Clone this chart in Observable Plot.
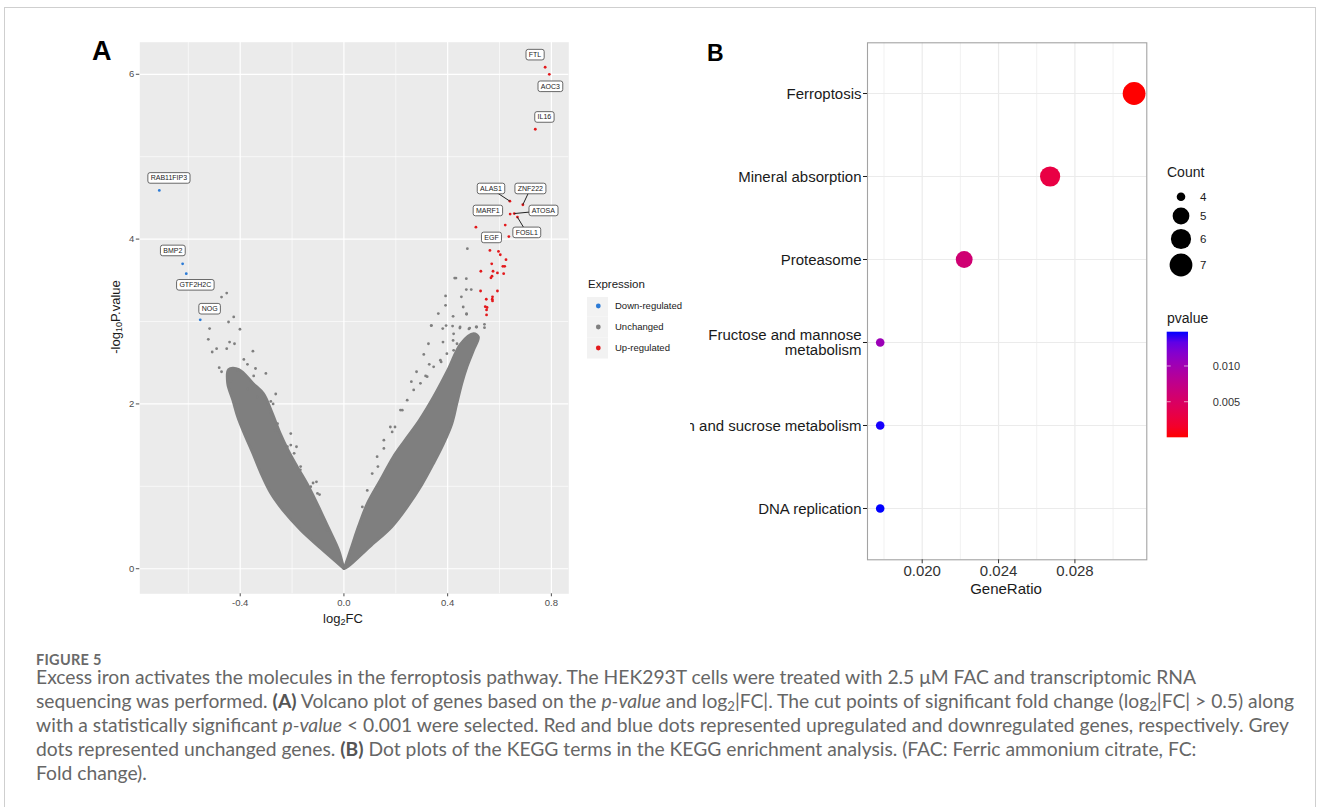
<!DOCTYPE html>
<html><head><meta charset="utf-8">
<script src="https://cdn.jsdelivr.net/npm/d3@7"></script>
<script src="https://cdn.jsdelivr.net/npm/@observablehq/plot@0.6"></script>
<style>
body{margin:0;background:#fff;}
#page{position:relative;width:1328px;height:807px;overflow:hidden;font-family:"Liberation Sans",Arial,sans-serif;background:#fff;}
.abs{position:absolute;white-space:nowrap;line-height:1;}
sub{font-size:70%;vertical-align:-0.3em;line-height:0;}
.cap{position:absolute;left:36px;white-space:nowrap;font-family:Lato,"Open Sans",sans-serif;color:#666;line-height:1;}
.cap b{color:#555;}
.cap sub{font-size:68%;vertical-align:-0.25em;}
</style></head><body><div id="page"></div>
<script>
// ---------------- Panel A data (volcano) ----------------
const geneNames = ["FTL","AOC3","IL16","ALAS1","ZNF222","MARF1","ATOSA","FOSL1","EGF","RAB11FIP3","BMP2","GTF2H2C","NOG"];
const geneFC    = [0.776,0.792,0.738,0.640,0.690,0.641,0.657,0.669,0.636,-0.712,-0.622,-0.608,-0.554];
const geneLogP  = [6.085,6.000,5.333,4.460,4.417,4.303,4.310,4.267,4.030,4.590,3.700,3.580,3.020];
const geneExpr  = ["Up-regulated","Up-regulated","Up-regulated","Up-regulated","Up-regulated","Up-regulated","Up-regulated","Up-regulated","Up-regulated","Down-regulated","Down-regulated","Down-regulated","Down-regulated"];
const labelFC   = [0.737,0.796,0.773,0.567,0.719,0.555,0.769,0.705,0.569,-0.675,-0.660,-0.573,-0.518];
const labelLogP = [6.235,5.851,5.479,4.611,4.611,4.344,4.344,4.078,4.017,4.739,3.859,3.442,3.152];
const segmentGenes = ["ALAS1","ZNF222","ATOSA","FOSL1"];

const upFC   = [0.509,0.622,0.563,0.596,0.603,0.625,0.570,0.613,0.620,0.528,0.575,0.592,0.616,0.571,0.567,0.527,0.592,0.549,0.573,0.572,0.573,0.545,0.550,0.550,0.552];
const upLogP = [4.145,4.170,3.863,3.850,3.810,3.750,3.700,3.670,3.670,3.610,3.610,3.590,3.580,3.550,3.530,3.370,3.370,3.270,3.300,3.270,3.250,3.180,3.140,3.080,3.170];

const greyFC = [-0.452,-0.472,-0.425,-0.445,-0.518,-0.401,-0.523,-0.508,-0.491,-0.481,-0.441,-0.422,-0.452,-0.351,-0.386,-0.301,-0.341,-0.348,-0.263,-0.282,-0.273,-0.265,-0.183,-0.205,-0.168,-0.106,-0.119,-0.102,-0.094,-0.472,-0.436,-0.410,-0.372,
  -0.436,-0.372,-0.333,-0.282,-0.256,-0.205,-0.218,-0.192,-0.167,-0.128,-0.115,-0.090,-0.064,-0.077,
  0.392,0.460,0.473,0.421,0.364,0.337,0.394,0.419,0.448,0.482,0.512,0.542,0.326,0.382,0.421,0.308,0.375,0.329,0.280,0.260,0.315,0.225,0.197,0.186,0.154,0.131,0.423,0.436,
  0.476,0.427,0.432,0.472,0.472,0.491,0.392,0.453,0.473,0.337,0.381,0.447,0.485,0.510,0.542,
  0.218,0.244,0.269,0.295,0.321,0.346,0.372,0.397,0.423,0.179,0.154,0.128,0.109,0.090,0.071];
const greyLogP = [3.345,3.297,3.055,2.994,2.914,2.906,2.784,2.630,2.670,2.440,2.750,2.730,2.670,2.640,2.540,2.370,2.430,2.340,2.120,2.030,2.000,1.680,1.480,1.500,1.200,1.055,1.040,0.914,0.900,2.390,2.270,2.410,2.480,
  2.170,2.180,2.085,1.880,1.760,1.640,1.480,1.400,1.240,0.995,0.830,0.670,0.469,0.590,
  3.196,3.176,3.087,3.063,3.096,2.950,2.950,2.945,2.933,2.910,2.933,2.925,2.730,2.750,2.770,2.600,2.510,2.480,2.390,2.270,2.340,1.924,1.720,1.660,1.460,1.240,2.850,2.730,
  3.884,3.527,3.527,3.520,3.387,3.387,3.310,3.300,3.095,2.950,2.914,2.920,2.920,2.933,2.966,
  1.925,2.045,2.170,2.250,2.330,2.450,2.530,2.610,2.650,1.720,1.560,1.360,1.155,0.950,0.750];

// outlines of the dense cloud of unchanged genes
const leftArmFC  = [0,-0.090,-0.167,-0.231,-0.282,-0.320,-0.352,-0.385,-0.410,-0.429,-0.449,-0.445,-0.405,-0.350,-0.310,-0.280,-0.245,-0.215,-0.180,-0.135,-0.085,-0.055,-0.020,0];
const leftArmLogP= [0,0.247,0.469,0.691,0.914,1.156,1.400,1.640,1.840,2.045,2.250,2.420,2.420,2.250,2.126,1.920,1.640,1.440,1.240,0.994,0.671,0.469,0.227,0];
const rightArmFC = [0,0.015,0.100,0.185,0.245,0.300,0.346,0.385,0.417,0.436,0.455,0.475,0.500,0.519,0.500,0.450,0.400,0.345,0.290,0.235,0.190,0.140,0.090,0.055,0.025,0];
const rightArmLogP=[0,0.024,0.267,0.509,0.752,1.015,1.278,1.520,1.762,2.005,2.247,2.449,2.650,2.812,2.853,2.730,2.410,2.085,1.800,1.560,1.358,1.075,0.793,0.509,0.227,0];

const xTicksA = [-0.4,0,0.4,0.8], xMinorA = [-0.6,-0.2,0.2,0.6];
const yTicksA = [0,2,4,6], yMinorA = [1,3,5];
const expressionLevels = ["Down-regulated","Unchanged","Up-regulated"];
const expressionColors = ["#2C7BD6","#7F7F7F","#E3191C"];

// ---------------- Panel B data (KEGG dot plot) ----------------
const terms = ["Ferroptosis","Mineral absorption","Proteasome","Fructose and mannose metabolism","Starch and sucrose metabolism","DNA replication"];
const termLabels = ["Ferroptosis","Mineral absorption","Proteasome","Fructose and mannose\nmetabolism","Starch and sucrose metabolism","DNA replication"];
const counts = [7,6,5,4,4,4];
const geneRatio = [0.0311,0.0267,0.0222,0.0178,0.0178,0.0178];
const pvalues = [0.00002,0.0030,0.0060,0.0104,0.0147,0.0148];
const xTicksB = [0.020,0.024,0.028], xMinorB = [0.018,0.022,0.026,0.030];
const countLegend = [4,5,6,7];
const pvalueTicks = [0.010,0.005];

// ---------------- helpers ----------------
const FONT = '"Liberation Sans", Arial, sans-serif';
const page = document.getElementById("page");
const ext = (lo, hi) => { const d = (hi - lo) * 0.05; return [lo - d, hi + d]; };
function addHTML(html, css) { const d = document.createElement("div"); d.className = "abs"; d.innerHTML = html; Object.assign(d.style, css); page.appendChild(d); return d; }

// frame
const fr = document.createElement("div");
Object.assign(fr.style, {position:"absolute", left:"4px", top:"7px", width:"1312px", height:"840px", border:"1px solid #cfcfcf", boxSizing:"border-box"});
page.appendChild(fr);

// ---------------- Panel A ----------------
const pts = [];
greyFC.forEach((v,i)=>pts.push({fc:v, lp:greyLogP[i], expr:"Unchanged"}));
upFC.forEach((v,i)=>pts.push({fc:v, lp:upLogP[i], expr:"Up-regulated"}));
geneFC.forEach((v,i)=>pts.push({fc:v, lp:geneLogP[i], expr:geneExpr[i]}));
const genes = geneNames.map((n,i)=>({name:n, fc:geneFC[i], lp:geneLogP[i], lfc:labelFC[i], llp:labelLogP[i]}));
const segs = genes.filter(g => segmentGenes.includes(g.name));
const leftArm = leftArmFC.map((v,i)=>({fc:v, lp:leftArmLogP[i]}));
const rightArm = rightArmFC.map((v,i)=>({fc:v, lp:rightArmLogP[i]}));

const allFC = [...pts.map(d=>d.fc), ...leftArmFC, ...rightArmFC];
const allLP = [...pts.map(d=>d.lp), ...leftArmLogP, ...rightArmLogP];

const plotA = Plot.plot({
  width: 575, height: 625,
  marginLeft: 139.3, marginRight: 6.7, marginTop: 41.7, marginBottom: 31.7,
  x: {domain: ext(d3.min(allFC), d3.max(allFC))},
  y: {domain: ext(d3.min(allLP), d3.max(allLP))},
  color: {domain: expressionLevels, range: expressionColors},
  style: {fontFamily: FONT, background: "transparent", overflow: "visible"},
  marks: [
    Plot.frame({fill: "#EBEBEB", stroke: "none"}),
    Plot.gridX({ticks: xMinorA, stroke: "#fff", strokeOpacity: 1, strokeWidth: 0.6}),
    Plot.gridY({ticks: yMinorA, stroke: "#fff", strokeOpacity: 1, strokeWidth: 0.6}),
    Plot.gridX({ticks: xTicksA, stroke: "#fff", strokeOpacity: 1, strokeWidth: 1.2}),
    Plot.gridY({ticks: yTicksA, stroke: "#fff", strokeOpacity: 1, strokeWidth: 1.2}),
    Plot.line(leftArm, {x: "fc", y: "lp", fill: "#7F7F7F", stroke: "#7F7F7F", strokeWidth: 2.5, strokeLinejoin: "round", curve: "catmull-rom"}),
    Plot.line(rightArm, {x: "fc", y: "lp", fill: "#7F7F7F", stroke: "#7F7F7F", strokeWidth: 2.5, strokeLinejoin: "round", curve: "catmull-rom"}),
    Plot.dot(pts, {x: "fc", y: "lp", fill: "expr", r: 1.4}),
    Plot.link(segs, {x1: "lfc", y1: "llp", x2: "fc", y2: "lp", stroke: "#222", strokeWidth: 1}),
    Plot.text(genes, {x: "lfc", y: "llp", text: "name", fontSize: 7, fill: "#222", className: "genelab"}),
    Plot.axisX({ticks: xTicksA, tickFormat: d => d.toFixed(1), tickSize: 3, tickPadding: 2, fontSize: 9.5, color: "#4D4D4D", label: null}),
    Plot.axisY({ticks: yTicksA, tickFormat: d => String(d), tickSize: 3.5, tickPadding: 2, fontSize: 9.5, color: "#4D4D4D", label: null})
  ]
});
Object.assign(plotA.style, {position: "absolute", left: "0px", top: "0px"});
page.appendChild(plotA);

// label boxes (ggrepel style)
plotA.querySelectorAll("g.genelab text").forEach(t => {
  const b = t.getBBox();
  const r = document.createElementNS("http://www.w3.org/2000/svg", "rect");
  r.setAttribute("x", b.x - 2.8); r.setAttribute("y", b.y - 1.8);
  r.setAttribute("width", b.width + 5.6); r.setAttribute("height", b.height + 3.6);
  r.setAttribute("rx", 2.2); r.setAttribute("fill", "#fff"); r.setAttribute("stroke", "#444"); r.setAttribute("stroke-width", 0.8);
  if (t.getAttribute("transform")) r.setAttribute("transform", t.getAttribute("transform"));
  t.parentNode.insertBefore(r, t);
});

addHTML("A", {left: "92px", top: "38px", fontSize: "27px", fontWeight: "bold", color: "#000"});
addHTML("log<sub>2</sub>FC", {left: "343px", top: "618px", transform: "translate(-50%,-50%)", fontSize: "13px", color: "#1a1a1a"});
addHTML("-log<sub>10</sub>P.value", {left: "115px", top: "317px", transform: "translate(-50%,-50%) rotate(-90deg)", fontSize: "13px", color: "#1a1a1a"});

// Expression legend
addHTML("Expression", {left: "588px", top: "279px", fontSize: "11.5px", color: "#1a1a1a"});
const legA = d3.select(page).append("svg").attr("width", 140).attr("height", 70)
  .style("position", "absolute").style("left", "586px").style("top", "297px");
expressionLevels.forEach((lev, i) => {
  const cy = 9 + i * 21;
  legA.append("rect").attr("x", 1).attr("y", cy - 10.5).attr("width", 21).attr("height", 21).attr("fill", "#F2F2F2");
  legA.append("circle").attr("cx", 12.3).attr("cy", cy).attr("r", 2.4).attr("fill", expressionColors[i]);
  legA.append("text").attr("x", 29).attr("y", cy).attr("dy", "0.35em").attr("font-size", 9.5).attr("font-family", FONT).attr("fill", "#1a1a1a").text(lev);
});

// ---------------- Panel B ----------------
const dataB = terms.map((t, i) => ({term: t, count: counts[i], ratio: geneRatio[i], p: pvalues[i]}));
const minCount = d3.min(counts), maxCount = d3.max(counts);
const rScale = {type: "sqrt", domain: [0, maxCount - minCount], range: [4.3, 11.4]};
const colorScale = {type: "linear", domain: d3.extent(pvalues), range: ["red", "blue"], interpolate: "lab"};
const mLeftB = 240;
const plotB = Plot.plot({
  width: mLeftB + 279.3 + 8, height: 600,
  marginLeft: mLeftB, marginRight: 8, marginTop: 42.3, marginBottom: 40.7,
  x: {domain: ext(d3.min(geneRatio), d3.max(geneRatio))},
  y: {type: "point", domain: terms, padding: 0.6},
  r: rScale,
  color: colorScale,
  style: {fontFamily: FONT, background: "transparent", overflow: "visible"},
  marks: [
    Plot.gridX({ticks: xMinorB, stroke: "#EBEBEB", strokeOpacity: 1, strokeWidth: 0.7}),
    Plot.gridX({ticks: xTicksB, stroke: "#EBEBEB", strokeOpacity: 1, strokeWidth: 1.2}),
    Plot.gridY({stroke: "#EBEBEB", strokeOpacity: 1, strokeWidth: 1.2}),
    Plot.frame({stroke: "#A3A3A3", strokeWidth: 1.1}),
    Plot.dot(dataB, {x: "ratio", y: "term", r: d => d.count - minCount, fill: "p"}),
    Plot.axisX({ticks: xTicksB, tickFormat: d => d.toFixed(3), tickSize: 4, tickPadding: 2, fontSize: 15, color: "#333", label: null}),
    Plot.axisY({tickFormat: d => termLabels[terms.indexOf(d)], tickSize: 4, tickPadding: 2, fontSize: 15, color: "#1a1a1a", label: null, lineHeight: 1.05})
  ]
});
const boxB = document.createElement("div");
Object.assign(boxB.style, {position: "absolute", left: "690px", top: "0px", width: "638px", height: "640px", overflow: "hidden"});
Object.assign(plotB.style, {position: "absolute", left: (866.7 - mLeftB - 690) + "px", top: "0px"});
boxB.appendChild(plotB);
page.appendChild(boxB);

addHTML("B", {left: "707px", top: "42px", fontSize: "23px", fontWeight: "bold", color: "#000"});
addHTML("GeneRatio", {left: "1006px", top: "588px", transform: "translate(-50%,-50%)", fontSize: "15px", color: "#1a1a1a"});

// Count (size) legend
const rS = Plot.scale({r: rScale});
addHTML("Count", {left: "1167px", top: "165px", fontSize: "14px", color: "#1a1a1a"});
const legB = d3.select(page).append("svg").attr("width", 120).attr("height", 300)
  .style("position", "absolute").style("left", "1160px").style("top", "180px");
let yc = 16.7 - 8.65;
countLegend.forEach((c, i) => {
  const r = rS.apply(c - minCount);
  const h = Math.max(17.3, 2 * r + 4.5);
  yc += h / 2;
  legB.append("circle").attr("cx", 21).attr("cy", yc).attr("r", r).attr("fill", "#000");
  legB.append("text").attr("x", 40).attr("y", yc).attr("dy", "0.35em").attr("font-size", 11.5).attr("font-family", FONT).attr("fill", "#1a1a1a").text(c);
  yc += h / 2;
});

// pvalue colour bar
addHTML("pvalue", {left: "1167px", top: "311px", fontSize: "14px", color: "#1a1a1a"});
const cS = Plot.scale({color: colorScale});
const [pMin, pMax] = d3.extent(pvalues);
const barTop = 331.7, barH = 105.6, barX = 1166.7, barW = 21.3;
const legC = d3.select(page).append("svg").attr("width", 160).attr("height", 140)
  .style("position", "absolute").style("left", "1160px").style("top", "320px");
const grad = legC.append("defs").append("linearGradient").attr("id", "pg").attr("x1", 0).attr("y1", 1).attr("x2", 0).attr("y2", 0);
d3.range(0, 1.0001, 0.1).forEach(t => grad.append("stop").attr("offset", t).attr("stop-color", cS.apply(pMin + t * (pMax - pMin))));
const oy = barTop - 320, ox = barX - 1160;
legC.append("rect").attr("x", ox).attr("y", oy).attr("width", barW).attr("height", barH).attr("fill", "url(#pg)");
const yOf = v => oy + (pMax - v) / (pMax - pMin) * barH;
pvalueTicks.forEach(v => {
  const y = yOf(v);
  legC.append("line").attr("x1", ox).attr("x2", ox + 4).attr("y1", y).attr("y2", y).attr("stroke", "#fff").attr("stroke-opacity", 0.6);
  legC.append("line").attr("x1", ox + barW - 4).attr("x2", ox + barW).attr("y1", y).attr("y2", y).attr("stroke", "#fff").attr("stroke-opacity", 0.6);
  legC.append("text").attr("x", ox + 46).attr("y", y).attr("dy", "0.35em").attr("font-size", 11).attr("font-family", FONT).attr("fill", "#333").text(v.toFixed(3));
});

// ---------------- Caption ----------------
const fig = document.createElement("div");
fig.className = "cap"; fig.textContent = "FIGURE 5";
Object.assign(fig.style, {top: "653px", fontSize: "14.5px", fontWeight: "700", color: "#6a6a6a", letterSpacing: "0.3px"});
page.appendChild(fig);
const capLines = [
  "Excess iron activates the molecules in the ferroptosis pathway. The HEK293T cells were treated with 2.5 μM FAC and transcriptomic RNA",
  "sequencing was performed. <b>(A)</b> Volcano plot of genes based on the <i>p-value</i> and log<sub>2</sub>|FC|. The cut points of significant fold change (log<sub>2</sub>|FC| &gt; 0.5) along",
  "with a statistically significant <i>p-value</i> &lt; 0.001 were selected. Red and blue dots represented upregulated and downregulated genes, respectively. Grey",
  "dots represented unchanged genes. <b>(B)</b> Dot plots of the KEGG terms in the KEGG enrichment analysis. (FAC: Ferric ammonium citrate, FC:",
  "Fold change)."
];
const capEls = capLines.map((h, i) => {
  const d = document.createElement("div");
  d.className = "cap"; d.innerHTML = h; d.style.fontSize = "17px";
  page.appendChild(d); return d;
});
const w = capEls[1].getBoundingClientRect().width;
const fs = 17 * (1295 - 36) / w;
capEls.forEach((d, i) => { d.style.fontSize = fs.toFixed(2) + "px"; d.style.top = (678 + 24 * i - fs * 0.55).toFixed(1) + "px"; });
</script></body></html>
